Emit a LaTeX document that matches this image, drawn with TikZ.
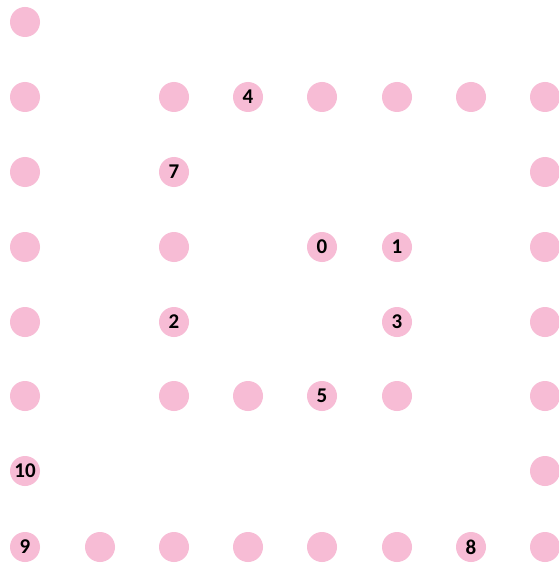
\documentclass[tikz,border=0pt]{standalone}
\usepackage{fontspec}
\setmainfont{Carlito}
\definecolor{dotpink}{RGB}{247,188,213}
\begin{document}
\begin{tikzpicture}[x=1pt,y=-1pt,
  dot/.style={circle,fill=dotpink,draw=none,minimum size=30pt,inner sep=0pt,
    font=\fontsize{21}{21}\selectfont\bfseries,text=black}]
\useasboundingbox[fill=white] (0,0) rectangle (558,564);
% columns: 25,100,174,248,322,397,471,545 ; rows: 22,97,172,247,322,396,471,547
\node[dot] (r0c0) at (25,22) {};
\node[dot] (r1c0) at (25,97) {};
\node[dot] (r1c2) at (174,97) {};
\node[dot] (n4) at (248,97) {4};
\node[dot] (r1c4) at (322,97) {};
\node[dot] (r1c5) at (397,97) {};
\node[dot] (r1c6) at (471,97) {};
\node[dot] (r1c7) at (545,97) {};
\node[dot] (r2c0) at (25,172) {};
\node[dot] (n7) at (174,172) {7};
\node[dot] (r2c7) at (545,172) {};
\node[dot] (r3c0) at (25,247) {};
\node[dot] (r3c2) at (174,247) {};
\node[dot] (n0) at (322,247) {0};
\node[dot] (n1) at (397,247) {1};
\node[dot] (r3c7) at (545,247) {};
\node[dot] (r4c0) at (25,322) {};
\node[dot] (n2) at (174,322) {2};
\node[dot] (n3) at (397,322) {3};
\node[dot] (r4c7) at (545,322) {};
\node[dot] (r5c0) at (25,396) {};
\node[dot] (r5c2) at (174,396) {};
\node[dot] (r5c3) at (248,396) {};
\node[dot] (n5) at (322,396) {5};
\node[dot] (r5c5) at (397,396) {};
\node[dot] (r5c7) at (545,396) {};
\node[dot] (n10) at (25,471) {10};
\node[dot] (r6c7) at (545,471) {};
\node[dot] (n9) at (25,547) {9};
\node[dot] (r7c1) at (100,547) {};
\node[dot] (r7c2) at (174,547) {};
\node[dot] (r7c3) at (248,547) {};
\node[dot] (r7c4) at (322,547) {};
\node[dot] (r7c5) at (397,547) {};
\node[dot] (n8) at (471,547) {8};
\node[dot] (r7c7) at (545,547) {};
\end{tikzpicture}
\end{document}
